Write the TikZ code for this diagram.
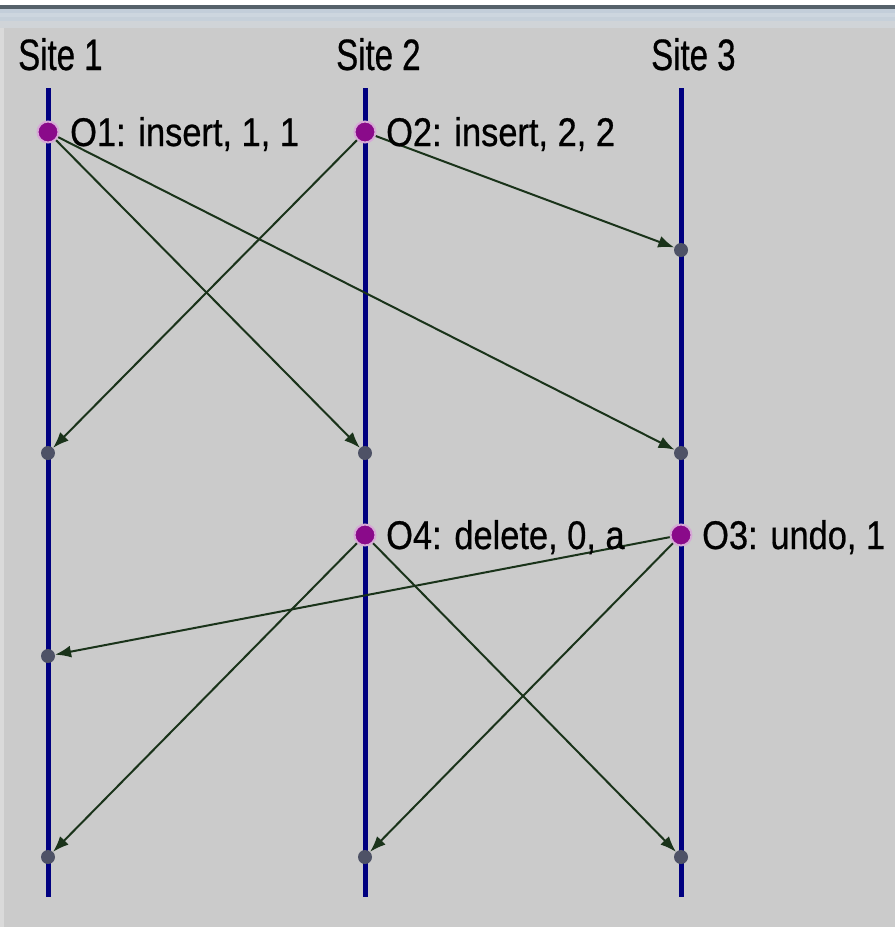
\documentclass[tikz,border=0pt]{standalone}
\usepackage{fontspec}
\setmainfont{Liberation Sans}
\newfontfamily\lblfont[FakeStretch=0.86,FakeBold=0.6]{Liberation Sans}
\newfontfamily\sitefont[FakeStretch=0.75,FakeBold=0.6]{Liberation Sans}
\usetikzlibrary{arrows.meta}
\definecolor{bgc}{HTML}{CBCBCB}
\definecolor{barc}{HTML}{56626B}
\definecolor{sitec}{HTML}{000080}
\definecolor{msgc}{HTML}{1A331A}
\definecolor{opc}{HTML}{8A0A8A}
\definecolor{rcvc}{HTML}{4E5266}
\definecolor{stripa}{HTML}{C3CEDA}
\definecolor{stripb}{HTML}{CDD6DF}
\definecolor{stripc}{HTML}{C6D0DA}
\definecolor{stripd}{HTML}{D0D4D8}
\definecolor{edgec}{HTML}{DADADA}
\begin{document}
\begin{tikzpicture}[x=1pt,y=-1pt,
  siteline/.style={draw=sitec,line width=5pt},
  odot/.style={circle,fill=opc,draw=opc!35!white,line width=2pt,minimum size=21pt,inner sep=0pt},
  rdot/.style={circle,fill=rcvc,minimum size=14pt,inner sep=0pt},
  msg/.style={draw=msgc,line width=2pt,-{Latex[length=16pt,width=12pt]}},
  olbl/.style={font=\lblfont\fontsize{40}{44}\selectfont,inner sep=0pt,anchor=base west,text=black},
  sitelbl/.style={font=\sitefont\fontsize{44}{48}\selectfont,inner sep=0pt,anchor=base west,text=black}]
\useasboundingbox (0,0) rectangle (895,927);
\fill[bgc] (0,0) rectangle (895,927);
\fill[white] (0,0) rectangle (895,5);
\fill[barc] (0,5) rectangle (895,9);
\fill[stripa] (0,9) rectangle (895,13);
\fill[stripb] (0,13) rectangle (895,17);
\fill[stripc] (0,17) rectangle (895,21);
\fill[stripd] (0,21) rectangle (895,28);
\fill[edgec] (0,28) rectangle (4,927);

% site labels
\node[sitelbl] (t1) at (18,70) {Site 1};
\node[sitelbl] (t2) at (336,70) {Site 2};
\node[sitelbl] (t3) at (651,70) {Site 3};

% site lines
\coordinate (s1t) at (48,88);  \coordinate (s1b) at (48,897);
\coordinate (s2t) at (365,88); \coordinate (s2b) at (365,897);
\coordinate (s3t) at (681,88); \coordinate (s3b) at (681,897);
\draw[siteline] (s1t) -- (s1b);
\draw[siteline] (s2t) -- (s2b);
\draw[siteline] (s3t) -- (s3b);

% receive dots
\node[rdot] (r3a) at (681,250) {};
\node[rdot] (r1a) at (48,453) {};
\node[rdot] (r2a) at (365,453) {};
\node[rdot] (r3b) at (681,453) {};
\node[rdot] (r1b) at (48,656) {};
\node[rdot] (r1c) at (48,857) {};
\node[rdot] (r2c) at (365,857) {};
\node[rdot] (r3c) at (681,857) {};

% operations
\node[odot] (o1) at (48,132) {};
\node[odot] (o2) at (365,132) {};
\node[odot] (o4) at (365,535) {};
\node[odot] (o3) at (681,535) {};

% messages
\draw[msg] (o1) -- (r2a);
\draw[msg] (o1) -- (r3b);
\draw[msg] (o2) -- (r1a);
\draw[msg] (o2) -- (r3a);
\draw[msg] (o3) -- (r1b);
\draw[msg] (o3) -- (r2c);
\draw[msg] (o4) -- (r1c);
\draw[msg] (o4) -- (r3c);

% labels
\node[olbl] (l1) at (70,146) {O1: insert, 1, 1};
\node[olbl] (l2) at (386,146) {O2: insert, 2, 2};
\node[olbl] (l4) at (386,549) {O4: delete, 0, a};
\node[olbl] (l3) at (702,549) {O3: undo, 1};
\end{tikzpicture}
\end{document}
